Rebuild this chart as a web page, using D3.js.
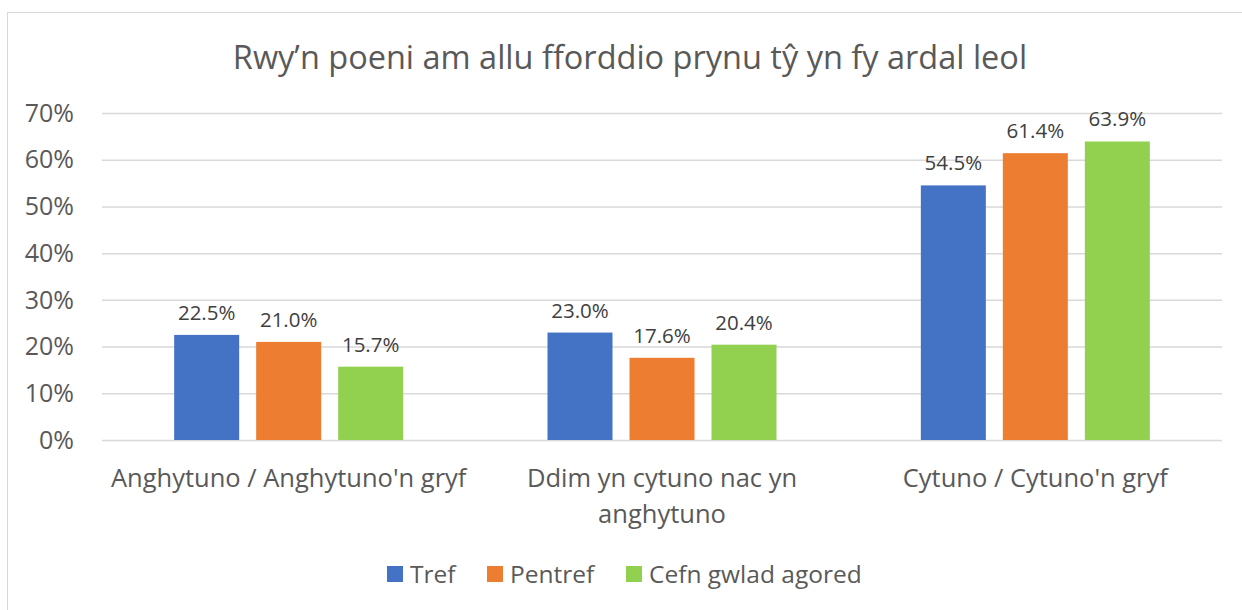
<!DOCTYPE html>
<html><head><meta charset="utf-8">
<script src="https://cdn.jsdelivr.net/npm/d3@7"></script>
<style>body{margin:0;background:#fff;} svg{display:block;font-family:"Open Sans", sans-serif;}</style>
</head><body>
<svg id="c" width="1242" height="610"></svg>
<script>
const title = "Rwy’n poeni am allu fforddio prynu tŷ yn fy ardal leol";
const categories = [["Anghytuno / Anghytuno'n gryf"], ["Ddim yn cytuno nac yn", "anghytuno"], ["Cytuno / Cytuno'n gryf"]];
const seriesNames = ["Tref", "Pentref", "Cefn gwlad agored"];
const tref = [22.5, 23.0, 54.5];
const pentref = [21.0, 17.6, 61.4];
const cefn = [15.7, 20.4, 63.9];
const colors = ["#4472C4", "#ED7D31", "#92D050"];
const yTicks = [0, 10, 20, 30, 40, 50, 60, 70];

const svg = d3.select("#c");
const textColor = "#595959";
svg.append("rect").attr("x", 7.5).attr("y", 12.5).attr("width", 1300).attr("height", 700)
  .attr("fill", "#fff").attr("stroke", "#d9d9d9").attr("stroke-width", 1);

const pL = 102, pR = 1222, pT = 113, pB = 440;
const x0 = d3.scaleBand().domain(d3.range(categories.length)).range([pL, pR]).paddingInner(0).paddingOuter(0);
const groupW = 65*3 + 17*2;
const x1 = d3.scaleBand().domain(d3.range(seriesNames.length)).range([0, groupW]).paddingInner(17/82).paddingOuter(0);
const y = d3.scaleLinear().domain([0, 70]).range([pB, pT]);

svg.append("text").attr("x", 630).attr("y", 69).attr("text-anchor", "middle")
  .attr("font-size", 32.5).attr("fill", textColor).text(title);

const yAxis = svg.append("g").attr("transform", `translate(${pL},0)`)
  .call(d3.axisLeft(y).tickValues(yTicks).tickSize(-(pR-pL)).tickFormat(d => d + "%"));
yAxis.select(".domain").remove();
yAxis.selectAll(".tick line").attr("stroke", "#d9d9d9").attr("stroke-width", 1.5);
yAxis.selectAll(".tick text").attr("x", -28).attr("font-size", 25).attr("fill", textColor)
  .attr("font-family", "'Open Sans', sans-serif").attr("dy", "0.33em");

const series = [tref, pentref, cefn];
series.forEach((vals, si) => {
  const g = svg.append("g");
  vals.forEach((v, ci) => {
    const cx = x0(ci) + (x0.bandwidth() - groupW)/2 + x1(si);
    g.append("rect").attr("x", cx).attr("y", y(v)).attr("width", x1.bandwidth())
      .attr("height", y(0) - y(v)).attr("fill", colors[si]);
    g.append("text").attr("x", cx + x1.bandwidth()/2).attr("y", y(v) - 15)
      .attr("text-anchor", "middle").attr("font-size", 20.5).attr("fill", "#404040").text(v.toFixed(1) + "%");
  });
});

categories.forEach((lines, ci) => {
  const t = svg.append("text").attr("text-anchor", "middle").attr("font-size", 25.5).attr("fill", textColor);
  lines.forEach((ln, li) => {
    t.append("tspan").attr("x", x0(ci) + x0.bandwidth()/2).attr("y", 487 + li*36).text(ln);
  });
});

const legX = [387, 487, 626];
seriesNames.forEach((n, i) => {
  svg.append("rect").attr("x", legX[i]).attr("y", 566).attr("width", 16).attr("height", 16).attr("fill", colors[i]);
  svg.append("text").attr("x", legX[i] + 23).attr("y", 583).attr("font-size", 24.5).attr("fill", textColor).text(n);
});
</script>
</body></html>
